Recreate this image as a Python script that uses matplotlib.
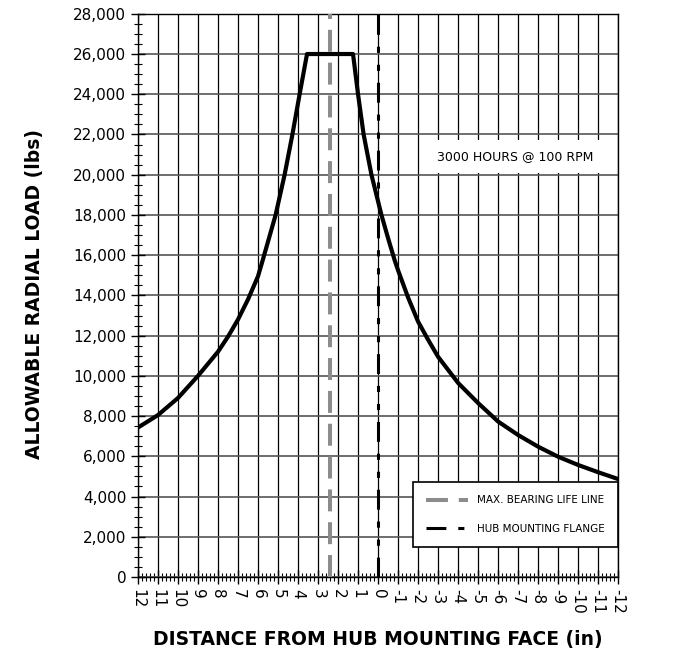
import numpy as np
import matplotlib
matplotlib.use('Agg')
import matplotlib.pyplot as plt
from matplotlib.ticker import MultipleLocator, FuncFormatter

# Данные
dist = [12, 11, 10, 9, 8, 7.5, 7, 6.5, 6, 5.75, 5.12, 4.67, 4.28, 3.92, 3.55,
        1.25, 1.0, 0.72, 0.33, -0.17, -0.5, -0.83, -1, -1.5, -2, -2.5, -3,
        -4, -5, -6, -7, -8, -9, -10, -11, -12]
load = [7430, 8050, 8900, 10000, 11200, 11950, 12800, 13800, 14950, 15800,
        18000, 20000, 22000, 24000, 26000,
        26000, 24000, 22000, 20000, 18000, 16850, 15750, 15250, 13900, 12700,
        11800, 10950, 9650, 8650, 7730, 7060, 6480, 5980, 5570, 5210, 4870]

bearing_line_x = 2.4
flange_x = 0

fig = plt.figure(figsize=(6.83, 6.63), dpi=100)
ax = fig.add_axes([0.202, 0.1297, 0.703, 0.8495])

# Сетка
ax.set_axisbelow(True)
ax.grid(True, axis='x', which='major', color='black', lw=0.9)
ax.grid(True, axis='y', which='major', color='#555555', lw=1.2)

# Кривая нагрузки
ax.plot(dist, load, color='black', lw=3, solid_joinstyle='round', zorder=3)

# Вертикальные линии
ax.axvline(bearing_line_x, color='#8c8c8c', lw=2.9, dashes=(5.45, 2.7),
           label='MAX. BEARING LIFE LINE', zorder=4)
ax.axvline(flange_x, color='black', lw=2.2, dashes=(6.5, 3.9, 2, 3.9, 2, 3.9),
           label='HUB MOUNTING FLANGE', zorder=4)

ax.set_xlim(12, -12)
ax.set_ylim(0, 28000)
ax.xaxis.set_major_locator(MultipleLocator(1))
ax.xaxis.set_minor_locator(MultipleLocator(0.2))
ax.yaxis.set_major_locator(MultipleLocator(2000))
ax.yaxis.set_minor_locator(MultipleLocator(500))
ax.yaxis.set_major_formatter(FuncFormatter(lambda v, p: f'{int(v):,}'))
ax.xaxis.set_major_formatter(FuncFormatter(lambda v, p: f'{int(round(v))}'))

ax.tick_params(axis='both', which='major', direction='inout', length=10,
               width=1, labelsize=11, color='black')
ax.tick_params(axis='both', which='minor', direction='inout', length=6,
               width=0.8, color='black')
for lbl in ax.get_xticklabels():
    lbl.set_rotation(270)

for s in ax.spines.values():
    s.set_color('black')
    s.set_linewidth(1)

fig.text(0.051, 0.556, 'ALLOWABLE RADIAL LOAD (lbs)', fontsize=13.5,
         fontweight='bold', rotation=90, ha='center', va='center')
fig.text(0.553, 0.035, 'DISTANCE FROM HUB MOUNTING FACE (in)', fontsize=13.5,
         fontweight='bold', ha='center', va='center')

ax.text(-6.85, 20900, '3000 HOURS @ 100 RPM', fontsize=9, ha='center',
        va='center', zorder=5,
        bbox=dict(facecolor='white', edgecolor='none', pad=7))

leg = ax.legend(loc='lower right', bbox_to_anchor=(1.0, 0.053), fontsize=7.5,
                frameon=True, fancybox=False, handlelength=4.0,
                handletextpad=0.9, borderpad=1.25, labelspacing=1.8,
                borderaxespad=0)
leg.get_frame().set_edgecolor('black')
leg.get_frame().set_linewidth(1.2)
leg.get_frame().set_alpha(1)

fig.savefig('out.png', dpi=100)
